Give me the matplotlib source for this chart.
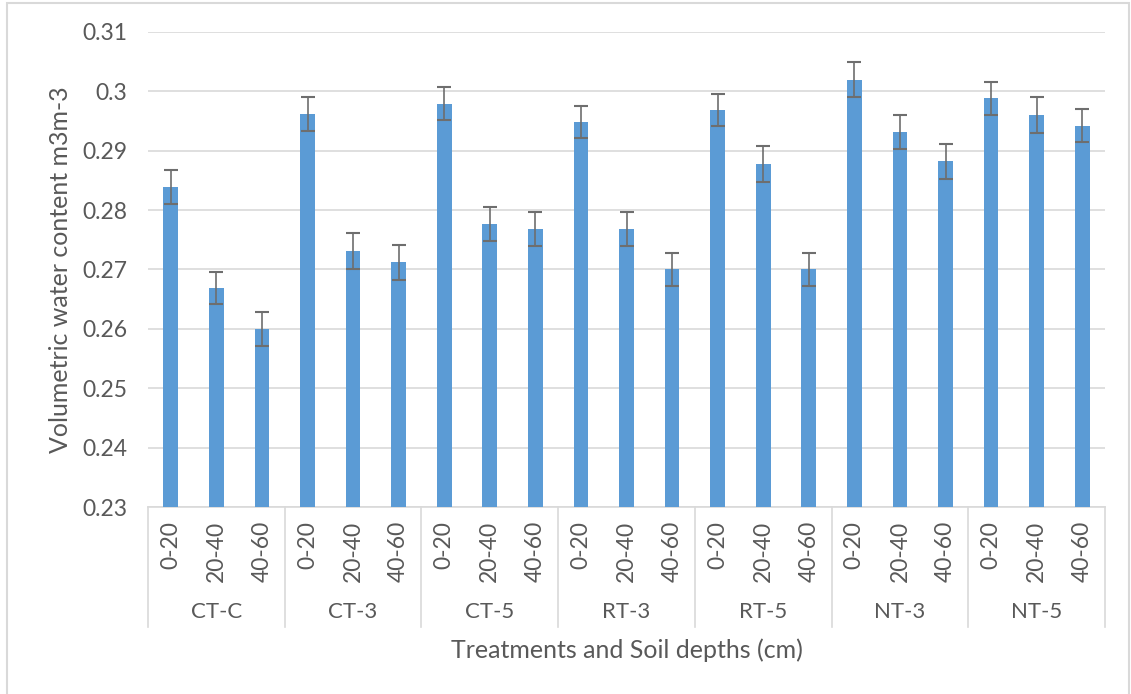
import matplotlib
matplotlib.use("Agg")
import matplotlib.pyplot as plt
from matplotlib.patches import Rectangle
import numpy as np

plt.rcParams['font.family'] = ['Lato', 'DejaVu Sans']

treatments = ["CT-C", "CT-3", "CT-5", "RT-3", "RT-5", "NT-3", "NT-5"]
depths = ["0-20", "20-40", "40-60"]
water_content = [
    0.2839, 0.2669, 0.2600,
    0.2962, 0.2731, 0.2712,
    0.2979, 0.2777, 0.2768,
    0.2949, 0.2768, 0.2700,
    0.2969, 0.2878, 0.2700,
    0.3020, 0.2932, 0.2882,
    0.2988, 0.2960, 0.2942,
]
errors = [
    0.0028, 0.0027, 0.0028,
    0.0028, 0.0030, 0.0029,
    0.0028, 0.0029, 0.0029,
    0.0027, 0.0029, 0.0027,
    0.0027, 0.0030, 0.0027,
    0.0030, 0.0029, 0.0029,
    0.0027, 0.0030, 0.0028,
]
y_ticks = [0.23, 0.24, 0.25, 0.26, 0.27, 0.28, 0.29, 0.30, 0.31]
y_tick_labels = ["0.23", "0.24", "0.25", "0.26", "0.27", "0.28", "0.29", "0.3", "0.31"]

W, H = 1131, 694
fig = plt.figure(figsize=(W / 100, H / 100), dpi=100)
fig.patch.set_facecolor("white")
fig.patches.append(Rectangle((7 / W, -0.1), (1129 - 7) / W, 1.1 - 3 / H,
                             transform=fig.transFigure, fill=False,
                             edgecolor="#D9D9D9", lw=1.5))

left, right, top, bottom = 148, 1105, 32, 507
ax = fig.add_axes([left / W, 1 - bottom / H, (right - left) / W, (bottom - top) / H])

text_color = "#595959"
grid_color = "#D9D9D9"
n = len(water_content)
x = np.arange(n)
ax.bar(x, [v - 0.23 for v in water_content], bottom=0.23, width=0.32,
       color="#5B9BD5", zorder=3)
ax.errorbar(x, water_content, yerr=errors, fmt="none", ecolor="#6E6E6E",
            elinewidth=1.2, capsize=5, capthick=1.5, zorder=4)

ax.set_ylim(0.23, 0.31)
ax.set_xlim(-0.5, n - 0.5)
ax.set_yticks(y_ticks)
ax.set_yticklabels(y_tick_labels)
ax.yaxis.grid(True, color=grid_color, lw=1.2, zorder=0)
ax.tick_params(axis="y", length=0, pad=15, labelsize=16.5, labelcolor=text_color)
for s in ["top", "right", "left"]:
    ax.spines[s].set_visible(False)
ax.spines["bottom"].set_color(grid_color)
ax.spines["bottom"].set_linewidth(1.2)

ax.set_xticks(x)
ax.set_xticklabels([depths[i % 3] for i in range(n)], rotation=90)
ax.tick_params(axis="x", length=0, pad=10, labelsize=16.5, labelcolor=text_color)

trans = ax.get_xaxis_transform()
sep_bottom = -(627 - bottom) / (bottom - top)
for g in range(len(treatments) + 1):
    ax.plot([g * 3 - 0.5, g * 3 - 0.5], [0, sep_bottom], color=grid_color,
            lw=1.2, transform=trans, clip_on=False)
label_y = -(612 - bottom) / (bottom - top)
for g, name in enumerate(treatments):
    ax.text(g * 3 + 1, label_y, name, transform=trans, ha="center", va="center",
            fontsize=16, color=text_color)

fig.text((left + right) / 2 / W, 1 - 650 / H, "Treatments and Soil depths (cm)",
         ha="center", va="center", fontsize=18, color=text_color)
fig.text(61 / W, 1 - 270 / H, "Volumetric water content m3m-3", rotation=90,
         ha="center", va="center", fontsize=18, color=text_color)

fig.savefig("out.png", dpi=100)
